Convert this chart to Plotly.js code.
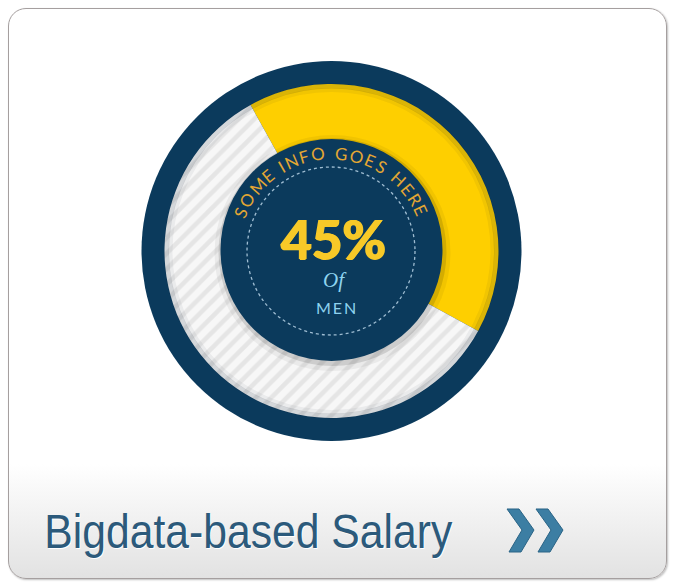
<!DOCTYPE html>
<html>
<head>
<meta charset="utf-8">
<script src="https://cdn.plot.ly/plotly-3.0.1.min.js"></script>
<style>
  html, body { margin:0; padding:0; background:#ffffff; width:678px; height:586px; overflow:hidden; }
  #card { position:absolute; left:8px; top:8px; width:659px; height:571px; box-sizing:border-box;
          border:1.5px solid #a59f9f; border-radius:18px;
          background:linear-gradient(to bottom, #ffffff 0%, #ffffff 80%, #e2e2e2 100%);
          box-shadow: 1px 1px 2px rgba(0,0,0,0.25); }
  #chart { position:absolute; left:0; top:0; width:678px; height:586px; }
</style>
</head>
<body>
<div id="card"></div>
<div id="chart"></div>
<script>
// ---- data ----
const sliceLabels = ['Men', 'Others'];
const sliceValues = [41, 59];
const sliceColors = ['#fecf00', '#f7f7f7'];
const headline = '45%';
const subLine1 = 'Of';
const subLine2 = 'MEN';
const arcText = 'SOME INFO GOES HERE';
const cardTitle = 'Bigdata-based Salary';

// ---- geometry helpers (pixels -> paper) ----
const W = 678, H = 586;
const px = x => x / W;
const py = y => 1 - y / H;
const CX = 331.5, CY = 251;
const R_OUT = 190, R_RING = 167, R_IN = 111;

function circle(cx, cy, r, opts) {
  return Object.assign({type:'circle', xref:'paper', yref:'paper',
    x0:px(cx - r), x1:px(cx + r), y0:py(cy + r), y1:py(cy - r)}, opts);
}
function pathPx(pts, opts) {
  const d = pts.map((p, i) => (i ? 'L' : 'M') + px(p[0]).toFixed(5) + ',' + py(p[1]).toFixed(5)).join(' ') + ' Z';
  return Object.assign({type:'path', xref:'paper', yref:'paper', path:d}, opts);
}

const trace = {
  type:'pie',
  labels: sliceLabels,
  values: sliceValues,
  sort:false,
  direction:'clockwise',
  rotation:-29,
  hole: R_IN / R_RING - 0.02,
  textinfo:'none',
  hoverinfo:'skip',
  showlegend:false,
  domain:{x:[px(CX - R_RING), px(CX + R_RING)], y:[py(CY + R_RING), py(CY - R_RING)]},
  marker:{
    colors: sliceColors,
    line:{width:0},
    pattern:{shape:['', '/'], bgcolor:sliceColors, fgcolor:['#fecf00', '#e5e5e5'], size:11, solidity:0.4}
  }
};

const shapes = [
  circle(CX, CY, R_OUT, {layer:'below', fillcolor:'#0b3a5c', line:{width:0}}),
  // ring inner shadow near navy
  circle(CX, CY, R_RING - 2, {layer:'above', fillcolor:'rgba(0,0,0,0)', line:{color:'rgba(0,20,40,0.14)', width:5}}),
  circle(CX, CY, R_RING - 6, {layer:'above', fillcolor:'rgba(0,0,0,0)', line:{color:'rgba(0,20,40,0.05)', width:4}}),
  // centre disk shadow
  circle(CX + 1, CY + 2, R_IN + 7, {layer:'above', fillcolor:'rgba(0,0,0,0.05)', line:{width:0}}),
  circle(CX + 1, CY + 1, R_IN + 3, {layer:'above', fillcolor:'rgba(0,0,0,0.12)', line:{width:0}}),
  circle(CX, CY - 1, R_IN, {layer:'above', fillcolor:'#0b3a5c', line:{width:0}}),
  circle(CX - 0.5, CY, 84, {layer:'above', fillcolor:'rgba(0,0,0,0)', line:{color:'rgba(185,212,230,0.85)', width:1.3, dash:'dot'}}),
];

// chevrons
function chevron(x0) {
  return pathPx([[x0, 509], [x0 + 12, 509], [x0 + 27, 530], [x0 + 14, 552], [x0 + 2, 552], [x0 + 15, 530]],
    {layer:'above', fillcolor:'#3c7ea3', line:{color:'#2a6486', width:1}});
}
shapes.push(chevron(507), chevron(536));

// annotations
const annotations = [];
// curved text along arc
const charW = {S:.6, O:.78, M:.85, E:.58, ' ':.35, I:.3, N:.75, F:.55, G:.75, H:.75, R:.62};
const chars = arcText.split('');
let cum = 0; const centers = [];
chars.forEach(c => { const w = charW[c] || .6; centers.push(cum + w / 2); cum += w; });
const a0 = -66.5, a1 = 65;
const first = centers[0], last = centers[centers.length - 1];
const rArc = 99;
chars.forEach((c, i) => {
  if (c === ' ') return;
  const ang = a0 + (centers[i] - first) / (last - first) * (a1 - a0);
  const rad = ang * Math.PI / 180;
  annotations.push({
    xref:'paper', yref:'paper', showarrow:false,
    x: px(CX + rArc * Math.sin(rad)), y: py(CY + 1 - rArc * Math.cos(rad)),
    xanchor:'center', yanchor:'middle', textangle: ang,
    text: c, font:{family:'Lato, Open Sans, sans-serif', size:17, color:'#e4a733', weight:400}
  });
});
const Y = '#f7c928';
annotations.push(
  {xref:'paper', yref:'paper', showarrow:false, x:px(333), y:py(238), xanchor:'center', yanchor:'middle',
   text:'<b>' + headline + '</b>',
   font:{family:'Lato, Open Sans, sans-serif', size:53, color:Y, weight:900,
         shadow:'1px 0 0 ' + Y + ', -1px 0 0 ' + Y + ', 0 1px 0 ' + Y + ', 0 -0.5px 0 ' + Y}},
  {xref:'paper', yref:'paper', showarrow:false, x:px(335), y:py(280), xanchor:'center', yanchor:'middle',
   text:'<i>' + subLine1 + '</i>', font:{family:'Liberation Serif, serif', size:21, color:'#8ed3ef'}},
  {xref:'paper', yref:'paper', showarrow:false, x:px(336), y:py(307), xanchor:'center', yanchor:'middle',
   text:subLine2.split('').join('\u2009'), font:{family:'Lato, Open Sans, sans-serif', size:16, color:'#8ed3ef'}},
  {xref:'paper', yref:'paper', showarrow:false, x:px(248), y:py(531), xanchor:'center', yanchor:'middle',
   text:cardTitle, font:{family:'Liberation Sans, Arial, sans-serif', size:49, color:'#2c5a7b', shadow:'1px 1px 0 #ffffff'}}
);

const layout = {
  width:W, height:H,
  margin:{l:0, r:0, t:0, b:0},
  paper_bgcolor:'rgba(0,0,0,0)', plot_bgcolor:'rgba(0,0,0,0)',
  showlegend:false,
  shapes: shapes,
  annotations: annotations
};

Plotly.newPlot('chart', [trace], layout, {staticPlot:true, displayModeBar:false}).then(gd => {
  // condense the card title to the narrow look of the reference
  gd.querySelectorAll('.annotation-text').forEach(t => {
    if (t.textContent === cardTitle) {
      t.setAttribute('textLength', '408');
      t.setAttribute('lengthAdjust', 'spacingAndGlyphs');
    }
  });
});
</script>
</body>
</html>
